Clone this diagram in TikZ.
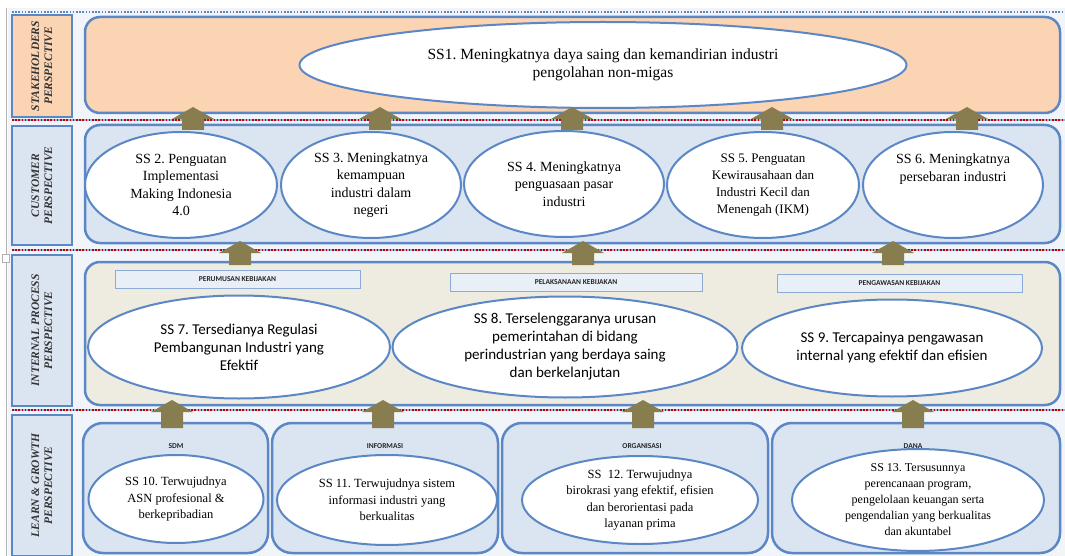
\documentclass[tikz,border=0pt]{standalone}
\usepackage{fontspec}
\setmainfont{Liberation Serif}
\newfontfamily\calibri{Carlito}
\usetikzlibrary{shapes.geometric}
\definecolor{peach}{HTML}{FBD4B4}
\definecolor{paleblue}{HTML}{DBE5F1}
\definecolor{beige}{HTML}{EEECE1}
\definecolor{edgeblue}{HTML}{5B87C5}
\definecolor{arrowolive}{HTML}{877D4F}
\definecolor{backblue}{HTML}{F1F5FA}
\frenchspacing
\begin{document}
\begin{tikzpicture}[x=1pt,y=-1pt,
    perspbox/.style={draw=edgeblue, line width=1.5pt},
    perspective/.style={rotate=90, align=center, text=black!80,
      font=\bfseries\itshape\fontsize{11.5}{13}\selectfont},
    lane/.style={draw=edgeblue, line width=2.5pt, rounded corners=15pt},
    goal/.style={ellipse, draw=edgeblue, line width=2pt, fill=white,
      inner sep=0pt, align=center, font=\fontsize{14}{17.5}\selectfont},
    goalsans/.style={goal, font=\calibri\fontsize{15}{18}\selectfont},
    goalsmall/.style={goal, font=\fontsize{12.5}{16.5}\selectfont},
    tag/.style={draw=edgeblue!70, line width=0.6pt, fill=paleblue!60},
    tagtext/.style={font=\calibri\bfseries\fontsize{7.5}{8}\selectfont, text=black!85},
    sep/.style={red!75!black, line width=2pt, dash pattern=on 1.6pt off 1.6pt}]
  \useasboundingbox (0,0) rectangle (1065,556);
  % backdrop and page edge
  \fill[backblue] (8,8) rectangle (1065,556);
  \draw[gray!60, line width=0.8pt] (6,8) -- (6,556);
  \draw[gray!60, line width=0.6pt, fill=white] (2,254) rectangle (9,262);
  % separators
  \draw[edgeblue, line width=2pt, dash pattern=on 1.6pt off 1.6pt] (12,12) -- (1065,12);
  \foreach \y in {120,250,410}{
    \draw[edgeblue!60, line width=2pt] (12,\y) -- (1065,\y);
    \draw[sep] (12,\y) -- (1065,\y);
  }
  % perspective labels
  \draw[perspbox, fill=peach] (12,15) rectangle (72,117) node[pos=0.5, perspective](stake){STAKEHOLDERS\\PERSPECTIVE};
  \draw[perspbox, fill=paleblue] (12,126) rectangle (72,245) node[pos=0.5, perspective](cust){CUSTOMER\\PERSPECTIVE};
  \draw[perspbox, fill=paleblue] (12,255) rectangle (72,406) node[pos=0.5, perspective](intproc){INTERNAL PROCESS\\PERSPECTIVE};
  \draw[perspbox, fill=paleblue] (12,415) rectangle (72,556) node[pos=0.5, perspective](learn){LEARN \& GROWTH\\PERSPECTIVE};
  % stakeholders lane
  \draw[lane, fill=peach] (85,17) rectangle (1060,113);
  \node[goal, minimum width=607pt, minimum height=86pt, font=\fontsize{15.5}{18}\selectfont] (ss1) at (603,65)
    {SS1. Meningkatnya daya saing dan kemandirian industri\\pengolahan non-migas};
  % customer lane
  \draw[lane, fill=paleblue] (85,125) rectangle (1060,243);
  \node[goal, minimum width=192pt, minimum height=106pt] (ss2) at (181,185)
    {SS 2. Penguatan\\Implementasi\\Making Indonesia\\4.0};
  \node[goal, minimum width=180pt, minimum height=106pt] (ss3) at (371,185)
    {SS 3. Meningkatnya\\kemampuan\\industri dalam\\negeri};
  \node[goal, minimum width=200pt, minimum height=106pt] (ss4) at (564,184)
    {SS 4. Meningkatnya\\penguasaan pasar\\industri};
  \node[goal, minimum width=192pt, minimum height=106pt, font=\fontsize{13}{17}\selectfont] (ss5) at (763,185)
    {SS 5. Penguatan\\Kewirausahaan dan\\Industri Kecil dan\\Menengah (IKM)};
  \node[goal, minimum width=180pt, minimum height=106pt] (ss6) at (953,185) {};
  \node[align=center, font=\fontsize{14}{17.5}\selectfont] (ss6text) at ([yshift=16pt]ss6.center)
    {SS 6. Meningkatnya\\persebaran industri};
  % internal process lane
  \draw[lane, fill=beige] (85,262) rectangle (1060,405);
  \draw[tag] (115,270) rectangle (360,288) node[pos=0.5, tagtext](perumusan){PERUMUSAN KEBIJAKAN};
  \draw[tag] (450,273) rectangle (702,291) node[pos=0.5, tagtext](pelaksanaan){PELAKSANAAN KEBIJAKAN};
  \draw[tag] (777,274) rectangle (1022,292) node[pos=0.5, tagtext](pengawasan){PENGAWASAN KEBIJAKAN};
  \node[goalsans, minimum width=302pt, minimum height=103pt] (ss7) at (239,347)
    {SS 7. Tersedianya Regulasi\\Pembangunan Industri yang\\Efektif};
  \node[goalsans, minimum width=345pt, minimum height=101pt] (ss8) at (565,347)
    {SS 8. Terselenggaranya urusan\\pemerintahan di bidang\\perindustrian yang berdaya saing\\dan berkelanjutan};
  \node[goalsans, minimum width=300pt, minimum height=97pt] (ss9) at (892,348)
    {SS 9. Tercapainya pengawasan\\internal yang efektif dan efisien};
  % learn & growth lanes
  \draw[lane, fill=paleblue, rounded corners=20pt] (83,423) rectangle (268,553);
  \draw[lane, fill=paleblue, rounded corners=20pt] (272,423) rectangle (498,553);
  \draw[lane, fill=paleblue, rounded corners=20pt] (502,423) rectangle (768,553);
  \draw[lane, fill=paleblue, rounded corners=20pt] (772,423) rectangle (1060,553);
  \node[tagtext] (sdm) at (176,446) {SDM};
  \node[tagtext] (informasi) at (385,446) {INFORMASI};
  \node[tagtext] (organisasi) at (642,446) {ORGANISASI};
  \node[tagtext] (dana) at (913,446) {DANA};
  \node[goalsmall, minimum width=175pt, minimum height=88pt] (ss10) at (176,499)
    {SS 10. Terwujudnya\\ASN profesional \&\\berkepribadian};
  \node[goalsmall, minimum width=220pt, minimum height=90pt] (ss11) at (387,500)
    {SS 11. Terwujudnya sistem\\informasi industri yang\\berkualitas};
  \node[goalsmall, minimum width=236pt, minimum height=88pt] (ss12) at (640,500)
    {SS\ \ 12. Terwujudnya\\birokrasi yang efektif, efisien\\dan berorientasi pada\\layanan prima};
  \node[goalsmall, minimum width=252pt, minimum height=94pt, font=\fontsize{12}{16}\selectfont] (ss13) at (918,500)
    {SS 13. Tersusunnya\\perencanaan program,\\pengelolaan keuangan serta\\pengendalian yang berkualitas\\dan akuntabel};
  % up arrows between the perspectives
  \foreach \x/\yt/\yb in {193/107/130, 380/107/130, 572/107/130, 772/107/130, 967/107/130,
                          240/241/265, 583/241/265, 893/241/265,
                          172/400/428, 383/400/428, 643/400/428, 913/400/428}{
    \fill[arrowolive] ({\x-11},\yb) -- ({\x-11},{\yt+12}) -- ({\x-21},{\yt+12}) -- (\x,\yt)
      -- ({\x+21},{\yt+12}) -- ({\x+11},{\yt+12}) -- ({\x+11},\yb) -- cycle;
  }
\end{tikzpicture}
\end{document}
